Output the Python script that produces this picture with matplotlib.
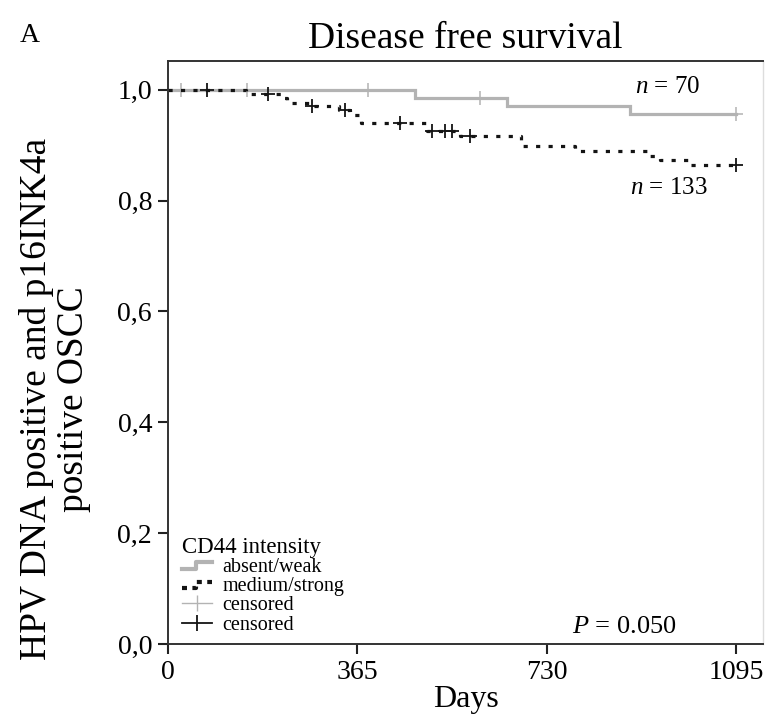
import numpy as np
import matplotlib
matplotlib.use("Agg")
import matplotlib.pyplot as plt
from matplotlib.lines import Line2D
from matplotlib.legend_handler import HandlerBase

plt.rcParams['font.family'] = ['Liberation Serif', 'DejaVu Serif']
plt.rcParams['mathtext.fontset'] = 'custom'
plt.rcParams['mathtext.rm'] = 'Liberation Serif'
plt.rcParams['mathtext.it'] = 'Liberation Serif:italic'

# ---- data ----
weak_days = [0, 476, 653, 890, 1095]
weak_surv = [1.0, 0.9857, 0.9714, 0.957, 0.957]
weak_censor = [25, 152, 386, 601, 1095]

strong_days = [0, 150, 222, 230, 275, 330, 350, 372, 500, 563, 681, 785, 925, 949, 1006, 1095]
strong_surv = [1.0, 0.992, 0.985, 0.977, 0.970, 0.963, 0.955, 0.940, 0.925, 0.916,
               0.898, 0.890, 0.881, 0.873, 0.865, 0.865]
strong_censor = [76, 193, 277, 341, 447, 509, 534, 547, 582, 1095]

x_ticks = [0, 365, 730, 1095]
y_ticks = [0.0, 0.2, 0.4, 0.6, 0.8, 1.0]
y_ticklabels = ["0,0", "0,2", "0,4", "0,6", "0,8", "1,0"]

GRAY = '#b3b3b3'
BLACK = '#141414'


def step_at(days, surv, t):
    i = np.searchsorted(days, t, side='right') - 1
    return surv[max(i, 0)]


fig = plt.figure(figsize=(7.65, 7.2), dpi=100)
ax = fig.add_axes([168/765, 1-644/720, (763-168)/765, (644-61)/720])

ax.step(weak_days, weak_surv, where='post', color=GRAY, lw=2.3, solid_joinstyle='miter')
ax.plot(weak_censor, [step_at(weak_days, weak_surv, t) for t in weak_censor],
        ls='none', marker='+', ms=10, mew=1.1, color=GRAY)

ax.step(strong_days, strong_surv, where='post', color=BLACK, lw=2.3,
        dashes=(1.3, 2.6), dash_capstyle='butt')
ax.plot(strong_censor, [step_at(strong_days, strong_surv, t) for t in strong_censor],
        ls='none', marker='+', ms=10, mew=1.3, color=BLACK)

ax.set_xlim(0, 1147)
ax.set_ylim(0, 1.052)
ax.set_xticks(x_ticks)
ax.set_xticklabels([str(v) for v in x_ticks])
ax.set_yticks(y_ticks)
ax.set_yticklabels(y_ticklabels)
ax.tick_params(direction='out', length=7.5, width=1.5, color='#222222',
               labelsize=20, pad=4)
for s in ax.spines.values():
    s.set_color('#333333')
    s.set_linewidth(1.4)
ax.spines['right'].set_color('#dddddd')
ax.spines['right'].set_linewidth(1.0)

ax.set_xlabel("Days", fontsize=23, labelpad=0)
ax.set_ylabel("HPV DNA positive and p16INK4a\npositive OSCC", fontsize=27,
              linespacing=1.1)
ax.yaxis.label.set_va('center')
ax.yaxis.set_label_coords(-0.19, 0.42)
ax.set_title("Disease free survival", fontsize=27, pad=9)
fig.text(20/765, 1-35/720, "A", fontsize=20, va='center', ha='left')

ax.text(900, 1.005, r"$\it{n}$ = 70", fontsize=18, va='center', ha='left')
ax.text(891, 0.823, r"$\it{n}$ = 133", fontsize=18, va='center', ha='left')
ax.text(779, 0.031, r"$\it{P}$ = 0.050", fontsize=19, va='center', ha='left')


class StepHandler(HandlerBase):
    def __init__(self, **kw):
        self.kw = kw
        super().__init__()

    def create_artists(self, legend, orig_handle, xdescent, ydescent, width, height,
                       fontsize, trans):
        x0, x1 = -xdescent, -xdescent + width
        xm = x0 + 0.45 * width
        yl = -ydescent + 0.25 * height
        yh = -ydescent + 0.7 * height
        ln = Line2D([x0, xm, xm, x1], [yl, yl, yh, yh], transform=trans, **self.kw)
        return [ln]


h1 = Line2D([], [], color=GRAY)
h2 = Line2D([], [], color=BLACK)
h3 = Line2D([], [], color=GRAY, lw=1.0, marker='|', ms=12, mew=1.0)
h4 = Line2D([], [], color=BLACK, lw=1.3, marker='|', ms=12, mew=1.3)
leg = ax.legend([h1, h2, h3, h4], ["absent/weak", "medium/strong", "censored", "censored"],
                title="CD44 intensity", loc='lower left',
                bbox_to_anchor=(0.0, -0.008), frameon=False, fontsize=14.5,
                title_fontsize=16.5, handlelength=1.5, handletextpad=0.5,
                labelspacing=0.0, borderpad=0.2,
                handler_map={h1: StepHandler(color=GRAY, lw=3.0),
                             h2: StepHandler(color=BLACK, lw=3.0, dashes=(1.2, 1.3))})
leg._legend_box.align = 'left'

fig.savefig("out.png", dpi=100)
